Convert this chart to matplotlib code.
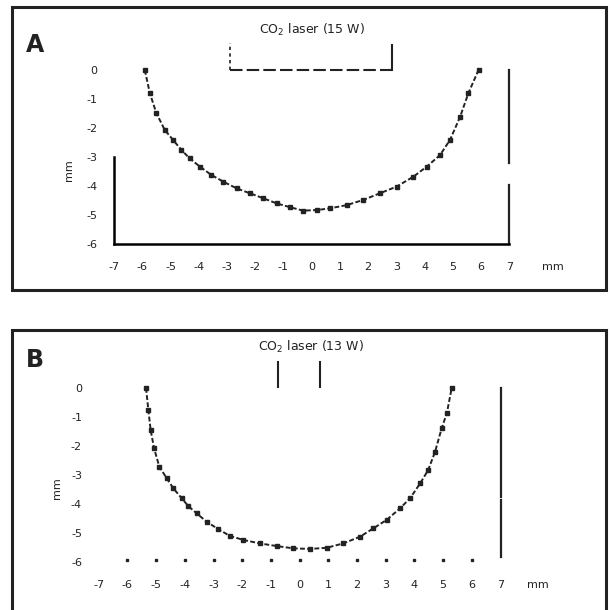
import matplotlib
matplotlib.use('Agg')
import matplotlib.pyplot as plt
from matplotlib.patches import Rectangle

plt.rcParams['axes.unicode_minus'] = False
plt.rcParams['font.family'] = ['DejaVu Sans']

# panel A: CO2 laser (15 W)
a_x = [-5.91, -5.73, -5.50, -5.20, -4.91, -4.61, -4.32, -3.96, -3.55, -3.13, -2.66,
       -2.19, -1.72, -1.24, -0.77, -0.30, 0.18, 0.65, 1.24, 1.83, 2.42, 3.01, 3.60,
       4.08, 4.55, 4.90, 5.26, 5.55, 5.91]
a_y = [0, -0.80, -1.49, -2.07, -2.41, -2.76, -3.05, -3.33, -3.62, -3.85, -4.08,
       -4.25, -4.42, -4.60, -4.73, -4.85, -4.83, -4.77, -4.66, -4.48, -4.25, -4.02, -3.68,
       -3.33, -2.93, -2.41, -1.61, -0.80, 0]
a_title = 'CO$_2$ laser (15 W)'
a_bracket = (-2.9, 2.85)

# panel B: CO2 laser (13 W)
b_x = [-5.35, -5.27, -5.19, -5.07, -4.89, -4.63, -4.40, -4.11, -3.88, -3.59, -3.24,
       -2.83, -2.43, -1.96, -1.38, -0.80, -0.22, 0.36, 0.94, 1.52, 2.10, 2.57, 3.03,
       3.50, 3.85, 4.20, 4.48, 4.72, 4.95, 5.13, 5.30]
b_y = [0, -0.76, -1.45, -2.08, -2.71, -3.11, -3.46, -3.80, -4.07, -4.32, -4.61,
       -4.87, -5.10, -5.24, -5.36, -5.45, -5.53, -5.55, -5.51, -5.36, -5.13, -4.84, -4.55,
       -4.15, -3.80, -3.29, -2.83, -2.20, -1.39, -0.87, 0]
b_title = 'CO$_2$ laser (13 W)'
b_marks = [-0.75, 0.71]

x_ticks = list(range(-7, 8))
y_ticks = list(range(0, -7, -1))
ink = '#222222'

fig = plt.figure(figsize=(6.11, 6.10), dpi=100)

# outer frames
fig.patches.append(Rectangle((12 / 611, 1 - 290 / 610), (606 - 12) / 611, (290 - 7) / 610,
                             transform=fig.transFigure, fill=False, lw=2.2, ec=ink))
fig.patches.append(Rectangle((12 / 611, -0.05), (606 - 12) / 611, 0.05 + (610 - 330) / 610,
                             transform=fig.transFigure, fill=False, lw=2.2, ec=ink))
fig.text(0.057, 0.926, 'A', fontsize=17, fontweight='bold', color=ink, ha='center', va='center')
fig.text(0.057, 0.41, 'B', fontsize=17, fontweight='bold', color=ink, ha='center', va='center')

axA = fig.add_axes([114 / 611, 1 - 244 / 610, (509.3 - 114) / 611, 174 / 610])
axB = fig.add_axes([98.7 / 611, 1 - 562 / 610, 401.8 / 611, 174 / 610])

for ax in (axA, axB):
    ax.set_xlim(-7, 7)
    ax.set_ylim(-6, 0)
    ax.set_xticks(x_ticks)
    ax.set_yticks(y_ticks)
    ax.tick_params(length=0, labelsize=8, colors=ink)
    ax.tick_params(axis='x', pad=13)
    ax.tick_params(axis='y', pad=12)
    for s in ax.spines.values():
        s.set_visible(False)
    ax.patch.set_alpha(0)

# A
axA.plot(a_x, a_y, color=ink, lw=1.4, ls=(0, (2.5, 1.2)), marker='s', ms=2.2, clip_on=False)
axA.spines['bottom'].set_visible(True)
axA.spines['bottom'].set_linewidth(1.8)
axA.spines['left'].set_visible(True)
axA.spines['left'].set_linewidth(1.8)
axA.spines['left'].set_bounds(-6, -3)
axA.plot([7, 7], [0, -3.2], color=ink, lw=1.6, clip_on=False)
axA.plot([7, 7], [-3.97, -6], color=ink, lw=1.6, clip_on=False)
axA.plot([a_bracket[0], a_bracket[1]], [0, 0], color=ink, lw=1.5, ls=(0, (6, 2)), clip_on=False)
axA.plot([a_bracket[0], a_bracket[0]], [0, 0.93], color=ink, lw=1.2, ls=(0, (2, 2)), clip_on=False)
axA.plot([a_bracket[1], a_bracket[1]], [0, 0.86], color=ink, lw=1.5, clip_on=False)
axA.text(0, 1.38, a_title, fontsize=9, color=ink, ha='center', va='center')
axA.text(8.56, -6.8, 'mm', fontsize=8, color=ink, ha='center', va='center')
axA.text(-8.6, -3.45, 'mm', fontsize=8, color=ink, ha='center', va='center', rotation=90)

# B
axB.plot(b_x, b_y, color=ink, lw=1.4, ls=(0, (2.5, 1.2)), marker='s', ms=2.2, clip_on=False)
axB.plot([7, 7], [0, -3.76], color=ink, lw=1.6, clip_on=False)
axB.plot([7, 7], [-3.85, -5.83], color=ink, lw=1.6, clip_on=False)
axB.plot(x_ticks[1:-1], [-5.93] * len(x_ticks[1:-1]), ls='none', marker='s', ms=1.8,
         color=ink, clip_on=False)
for m in b_marks:
    axB.plot([m, m], [0.03, 0.9], color=ink, lw=1.5, clip_on=False)
axB.text(0.4, 1.41, b_title, fontsize=9, color=ink, ha='center', va='center')
axB.text(8.3, -6.8, 'mm', fontsize=8, color=ink, ha='center', va='center')
axB.text(-8.45, -3.45, 'mm', fontsize=8, color=ink, ha='center', va='center', rotation=90)

fig.savefig('out.png', dpi=100)
